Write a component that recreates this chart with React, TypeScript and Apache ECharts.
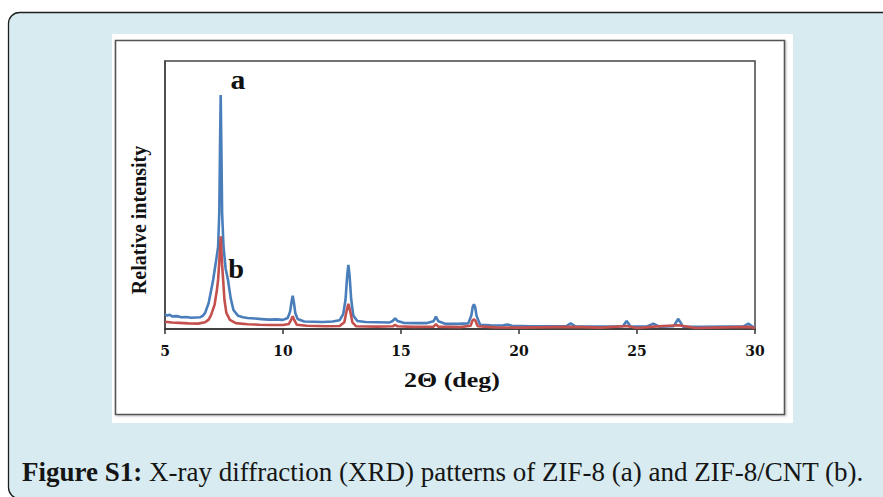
import React, { useEffect, useRef } from "react";
import * as echarts from "echarts";

// 2θ positions and relative intensities (arbitrary units, 0–100)
const zif8Angle = [
  5.0, 5.1, 5.2, 5.3, 5.5, 5.7, 5.9, 6.1, 6.3, 6.5, 6.6, 6.7, 6.85, 7.04, 7.15, 7.25, 7.3, 7.33, 7.36,
  7.39, 7.42, 7.48, 7.57, 7.67, 7.78, 7.9, 8.1, 8.3, 8.5, 8.8, 9.1, 9.4, 9.7, 10.0, 10.2, 10.3, 10.36,
  10.41, 10.46, 10.52, 10.62, 10.9, 11.3, 11.7, 12.1, 12.4, 12.55, 12.65, 12.72, 12.77, 12.82, 12.89,
  12.98, 13.15, 13.5, 14.0, 14.5, 14.65, 14.75, 14.85, 15.1, 15.6, 16.1, 16.38, 16.48, 16.58, 16.9,
  17.4, 17.85, 17.98, 18.04, 18.09, 18.14, 18.2, 18.35, 18.8, 19.3, 19.5, 19.7, 20.5, 21.3, 22.0,
  22.19, 22.38, 23.0, 23.8, 24.4, 24.56, 24.72, 25.4, 25.69, 25.95, 26.55, 26.75, 26.95, 27.8, 28.8,
  29.5, 29.72, 29.9, 30.0,
];
const zif8Intensity = [
  5.4, 5.0, 5.3, 4.7, 4.8, 4.4, 4.5, 4.2, 4.3, 4.4, 4.9, 6.0, 9.7, 18.3, 24.6, 30.6, 43.3, 66.8, 87.3,
  66.8, 43.3, 30.6, 22.5, 18.3, 11.6, 7.1, 4.9, 4.4, 4.1, 3.9, 3.7, 3.5, 3.6, 3.4, 4.1, 6.5, 10.0,
  12.4, 10.0, 6.0, 3.7, 2.8, 2.7, 2.6, 2.8, 3.3, 5.5, 11.0, 20.0, 23.9, 20.0, 11.0,
  5.0, 3.0, 2.6, 2.5, 2.4, 3.0, 4.0, 3.0, 2.3, 2.2, 2.2, 2.9, 4.6, 2.9, 1.9,
  1.9, 2.1, 5.0, 8.3, 9.2, 8.3, 5.0, 1.6, 1.4, 1.3, 1.7, 1.2, 1.0, 1.0, 1.0,
  2.1, 1.0, 0.9, 0.9, 1.0, 3.0, 1.0, 0.9, 2.0, 0.9, 1.0, 3.8, 0.9, 0.8, 0.9,
  0.9, 2.0, 0.8, 0.7,
];

const zif8CntAngle = [
  5.0, 5.3, 5.6, 6.0, 6.4, 6.7, 6.85, 6.95, 7.1, 7.2, 7.25, 7.3, 7.36, 7.42, 7.47, 7.52, 7.6, 7.75,
  8.0, 8.5, 9.0, 9.5, 10.0, 10.25, 10.35, 10.41, 10.47, 10.58, 11.0, 11.8, 12.4, 12.6, 12.7, 12.77,
  12.84, 12.94, 13.1, 14.0, 14.65, 14.75, 14.85, 15.5, 16.38, 16.48, 16.58, 17.5, 17.95, 18.03, 18.09,
  18.15, 18.25, 19.0, 20.0, 22.19, 23.5, 24.56, 25.0, 25.69, 26.75, 27.5, 29.72, 30.0,
];
const zif8CntIntensity = [
  2.7, 2.4, 2.3, 2.1, 2.0, 2.5, 3.5, 5.2, 9.0, 14.6, 18.3, 25.0, 34.6, 24.0, 17.5, 10.8, 6.0, 3.4,
  2.2, 1.8, 1.6, 1.5, 1.5, 1.9, 3.5, 4.8, 3.5, 1.6, 1.2, 1.0, 1.1, 2.5, 7.0, 9.4,
  7.0, 2.5, 1.0, 0.9, 1.0, 1.6, 1.0, 0.8, 0.9, 1.8, 0.9, 0.7, 1.2, 3.2, 3.6,
  3.2, 1.0, 0.6, 0.5, 0.8, 0.5, 1.1, 0.4, 0.9, 1.4, 0.4, 0.8, 0.4,
];

const xTicks = [5, 10, 15, 20, 25, 30];
const seriesLabels = ["a", "b"];
const xTitle = "2Θ (deg)";
const yTitle = "Relative intensity";
const captionBold = "Figure S1:";
const captionText = " X-ray diffraction (XRD) patterns of ZIF-8 (a) and ZIF-8/CNT (b).";

const serif = "'Liberation Serif', 'Times New Roman', serif";
const wideSerif = "'DejaVu Serif', serif";

export default function App() {
  const ref = useRef<HTMLDivElement>(null);
  useEffect(() => {
    if (!ref.current) return;
    const chart = echarts.init(ref.current, undefined, { renderer: "svg" });
    const pair = (xs: number[], ys: number[]) => xs.map((x, i) => [x, ys[i]]);
    chart.setOption({
      animation: false,
      backgroundColor: "#ffffff",
      graphic: [
        {
          type: "rect",
          z: -10,
          shape: { x: 8.5, y: 12.5, width: 940, height: 486, r: 11 },
          style: { fill: "#d7ebf0", stroke: "#1e1e1e", lineWidth: 1.3 },
        },
        {
          type: "rect",
          z: -9,
          shape: { x: 112, y: 34, width: 681, height: 389 },
          style: { fill: "#ffffff" },
        },
        {
          type: "rect",
          z: -8,
          shape: { x: 115.5, y: 40.5, width: 669, height: 374 },
          style: { fill: "#ffffff", stroke: "#555555", lineWidth: 1.6, shadowBlur: 2, shadowColor: "rgba(0,0,0,0.25)", shadowOffsetX: 1, shadowOffsetY: 1 },
        },
        {
          type: "text",
          x: 238,
          y: 80,
          scaleX: 1.1,
          style: { text: seriesLabels[0], font: `bold 27px ${serif}`, fill: "#111", align: "center", verticalAlign: "middle" },
        },
        {
          type: "text",
          x: 236,
          y: 269,
          scaleX: 1.05,
          style: { text: seriesLabels[1], font: `bold 27px ${serif}`, fill: "#111", align: "center", verticalAlign: "middle" },
        },
        {
          type: "text",
          x: 139,
          y: 220,
          rotation: Math.PI / 2,
          style: { text: yTitle, font: `bold 20px ${serif}`, fill: "#111", align: "center", verticalAlign: "middle" },
        },
        {
          type: "text",
          x: 452,
          y: 380,
          scaleX: 1.3,
          style: { text: xTitle, font: `bold 20px ${serif}`, fill: "#111", align: "center", verticalAlign: "middle" },
        },
        {
          type: "text",
          x: 22,
          y: 472,
          style: {
            text: `{b|${captionBold}}${captionText}`,
            font: `27px ${serif}`,
            fill: "#151515",
            verticalAlign: "middle",
            rich: {
              b: { font: `bold 27px ${serif}`, fill: "#151515" },
            },
          },
        },
      ],
      grid: {
        left: 165,
        top: 61,
        right: 128,
        bottom: 168,
        show: true,
        borderColor: "#444",
        borderWidth: 1.5,
        backgroundColor: "transparent",
      },
      xAxis: {
        type: "value",
        min: xTicks[0],
        max: xTicks[xTicks.length - 1],
        interval: 5,
        axisLine: { show: true, lineStyle: { color: "#333", width: 1.5 } },
        axisTick: { show: true, inside: false, length: 5, lineStyle: { color: "#333", width: 1.5 } },
        axisLabel: { show: true, margin: 15, color: "#111", fontFamily: wideSerif, fontWeight: "bold", fontSize: 14 },
        splitLine: { show: false },
      },
      yAxis: {
        type: "value",
        min: 0,
        max: 100,
        axisLine: { show: true, lineStyle: { color: "#444", width: 1.5 } },
        axisTick: { show: false },
        axisLabel: { show: false },
        splitLine: { show: false },
      },
      series: [
        {
          name: "ZIF-8 (a)",
          type: "line",
          data: pair(zif8Angle, zif8Intensity),
          showSymbol: false,
          symbol: "none",
          lineStyle: { color: "#4a7ebb", width: 2.6 },
          z: 2,
        },
        {
          name: "ZIF-8/CNT (b)",
          type: "line",
          data: pair(zif8CntAngle, zif8CntIntensity),
          showSymbol: false,
          symbol: "none",
          lineStyle: { color: "#c4504d", width: 2.6 },
          z: 3,
        },
      ],
    });
    return () => chart.dispose();
  }, []);
  return <div ref={ref} style={{ position: "fixed", left: 0, top: 0, width: 883, height: 497 }} />;
}
